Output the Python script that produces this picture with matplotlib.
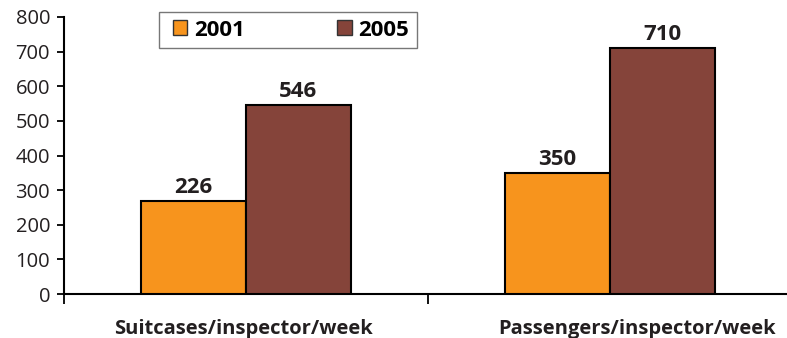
import matplotlib
matplotlib.use("Agg")
import matplotlib.pyplot as plt
import matplotlib.transforms as mtransforms
from matplotlib.patches import Patch, Rectangle

categories = ["Suitcases/inspector/week", "Passengers/inspector/week"]
series_names = ["2001", "2005"]
values_2001 = [270, 350]          # bar heights as drawn
values_2005 = [546, 710]
labels_2001 = ["226", "350"]      # labels as printed
labels_2005 = ["546", "710"]
yticks = [0, 100, 200, 300, 400, 500, 600, 700, 800]

c2001 = "#F7941D"
c2005 = "#85443A"
txt = "#231F20"
plt.rcParams['font.family'] = ['Open Sans', 'DejaVu Sans']

W, H = 787, 338
fig = plt.figure(figsize=(W/100, H/100), dpi=100)
ax = fig.add_axes([64/W, 1-294/H, (787-64)/W, (294-17)/H])

bw = 0.288
x = range(len(categories))
b1 = ax.bar([i - bw/2 for i in x], values_2001, width=bw, color=c2001, edgecolor="black", linewidth=1.5, zorder=3)
b2 = ax.bar([i + bw/2 for i in x], values_2005, width=bw, color=c2005, edgecolor="black", linewidth=1.5, zorder=3)
for rect, lab in zip(b1, labels_2001):
    ax.text(rect.get_x() + rect.get_width()/2, rect.get_height() + 8, lab, ha="center", va="bottom",
            fontsize=16, fontweight="bold", color=txt)
for rect, lab in zip(b2, labels_2005):
    ax.text(rect.get_x() + rect.get_width()/2, rect.get_height() + 8, lab, ha="center", va="bottom",
            fontsize=16, fontweight="bold", color=txt)

ax.set_xlim(-0.5, 1.5 - 5/364)
ax.set_ylim(0, 800)
ax.set_yticks(yticks)
ax.set_yticklabels([str(v) for v in yticks], fontsize=14.5, color=txt)
ax.tick_params(axis="y", direction="out", length=5, width=1.3, pad=5)
ax.set_xticks(list(x))
ax.set_xticklabels(categories, fontsize=14.5, fontweight="bold", color=txt)
ax.tick_params(axis="x", which="major", length=0, pad=18)
ax.set_xticks([-0.5, 0.5], minor=True)
ax.tick_params(axis="x", which="minor", direction="out", length=7, width=1.3)
# second category label sits a bit right of its bars in the reference
tl = ax.get_xticklabels()
shift = mtransforms.ScaledTranslation(27/100, 0, fig.dpi_scale_trans)
tl[1].set_transform(tl[1].get_transform() + shift)
tl[0].set_transform(tl[0].get_transform() + mtransforms.ScaledTranslation(-3/100, 0, fig.dpi_scale_trans))

for s in ["top", "right"]:
    ax.spines[s].set_visible(False)
for s in ["left", "bottom"]:
    ax.spines[s].set_linewidth(1.5)
    ax.spines[s].set_color("black")

# legend box
fig.patches.append(Rectangle((159/W, 1-48/H), 258/W, 36/H, transform=fig.transFigure,
                             facecolor="white", edgecolor="#777777", linewidth=1.0, zorder=5))
handles = [Patch(facecolor=c2001, edgecolor="#333333", linewidth=1),
           Patch(facecolor=c2005, edgecolor="#333333", linewidth=1)]
leg = fig.legend(handles, series_names, loc="center left",
                 bbox_to_anchor=(173/W, 1-48/H, 236/W, 36/H), mode="expand", ncol=2,
                 prop={"weight": "bold", "size": 16}, frameon=False,
                 handlelength=0.65, handleheight=0.65, handletextpad=0.3, borderaxespad=0,
                 borderpad=0.0)
leg.set_zorder(6)
for t in leg.get_texts():
    t.set_color("black")

fig.savefig("out.png", dpi=100)
